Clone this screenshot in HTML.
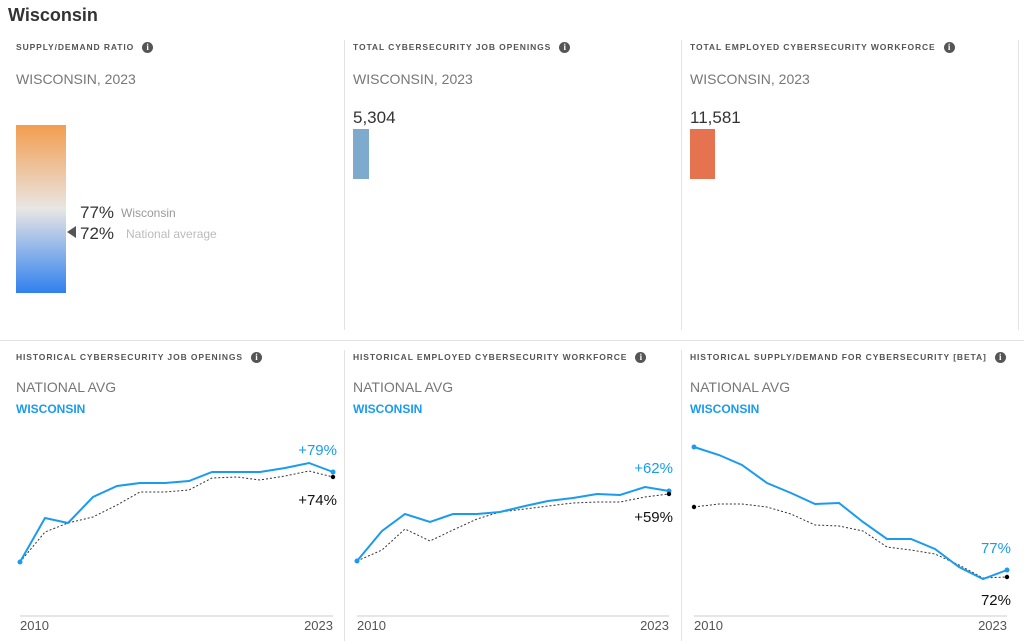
<!DOCTYPE html>
<html><head><meta charset="utf-8"><style>
body{margin:0;width:1024px;height:641px;background:#fff;font-family:"Liberation Sans",sans-serif;position:relative;overflow:hidden}
.a{position:absolute;white-space:nowrap}
.h{font-size:8.5px;font-weight:bold;letter-spacing:0.9px;color:#555}
.i{display:inline-block;width:11px;height:11px;border-radius:50%;background:#555;color:#fff;font-size:9px;text-align:center;line-height:11px;margin-left:8px;vertical-align:middle;font-family:"Liberation Serif",serif;font-weight:bold;letter-spacing:0}
.s{font-size:14px;color:#777}
.w{font-size:12px;font-weight:bold;color:#1a9bf0}
.v{position:absolute;width:1px;background:#e3e3e3}
</style></head><body>
<div class="a" style="left:8px;top:5px;font-size:18px;font-weight:bold;color:#333">Wisconsin</div>
<div class="v" style="left:344px;top:40px;height:290px"></div>
<div class="v" style="left:681px;top:40px;height:290px"></div>
<div class="v" style="left:1018px;top:40px;height:290px"></div>
<div class="a" style="left:0;top:340px;width:1024px;height:1px;background:#e3e3e3"></div>
<div class="v" style="left:344px;top:350px;height:291px"></div>
<div class="v" style="left:681px;top:350px;height:291px"></div>

<div class="a h" style="left:16px;top:42px">SUPPLY/DEMAND RATIO<span class="i">i</span></div>
<div class="a h" style="left:353px;top:42px">TOTAL CYBERSECURITY JOB OPENINGS<span class="i">i</span></div>
<div class="a h" style="left:690px;top:42px">TOTAL EMPLOYED CYBERSECURITY WORKFORCE<span class="i">i</span></div>
<div class="a s" style="left:16px;top:71px">WISCONSIN, 2023</div>
<div class="a s" style="left:353px;top:71px">WISCONSIN, 2023</div>
<div class="a s" style="left:690px;top:71px">WISCONSIN, 2023</div>

<div class="a" style="left:16px;top:125px;width:50px;height:168px;background:linear-gradient(#f39d4f,#e8e6e4 50%,#2f80ee)"></div>
<div class="a" style="left:80px;top:203px;font-size:17px;color:#333">77%</div>
<div class="a" style="left:121px;top:206px;font-size:12px;color:#999">Wisconsin</div>
<div class="a" style="left:80px;top:224px;font-size:17px;color:#333">72%</div>
<div class="a" style="left:126px;top:227px;font-size:12px;color:#bbb">National average</div>
<div class="a" style="left:67px;top:226px;width:0;height:0;border-top:6px solid transparent;border-bottom:6px solid transparent;border-right:9px solid #555"></div>

<div class="a" style="left:353px;top:108px;font-size:17px;color:#333">5,304</div>
<div class="a" style="left:353px;top:129px;width:16px;height:50px;background:#7eaacd"></div>
<div class="a" style="left:690px;top:108px;font-size:17px;color:#333">11,581</div>
<div class="a" style="left:690px;top:129px;width:25px;height:50px;background:#e5734f"></div>

<div class="a h" style="left:16px;top:352px">HISTORICAL CYBERSECURITY JOB OPENINGS<span class="i">i</span></div>
<div class="a h" style="left:353px;top:352px">HISTORICAL EMPLOYED CYBERSECURITY WORKFORCE<span class="i">i</span></div>
<div class="a h" style="left:690px;top:352px">HISTORICAL SUPPLY/DEMAND FOR CYBERSECURITY [BETA]<span class="i">i</span></div>
<div class="a s" style="left:16px;top:379px">NATIONAL AVG</div>
<div class="a s" style="left:353px;top:379px">NATIONAL AVG</div>
<div class="a s" style="left:690px;top:379px">NATIONAL AVG</div>
<div class="a w" style="left:16px;top:402px">WISCONSIN</div>
<div class="a w" style="left:353px;top:402px">WISCONSIN</div>
<div class="a w" style="left:690px;top:402px">WISCONSIN</div>

<svg class="a" style="left:0;top:0" width="1024" height="641" font-family="Liberation Sans, sans-serif">
<g stroke="#ccc" stroke-width="1"><line x1="20" y1="616" x2="333" y2="616"/><line x1="357" y1="616" x2="669" y2="616"/><line x1="694" y1="616" x2="1007" y2="616"/></g>
<g font-size="13" fill="#555">
<text x="20" y="630">2010</text><text x="333" y="630" text-anchor="end">2023</text>
<text x="357" y="630">2010</text><text x="669" y="630" text-anchor="end">2023</text>
<text x="694" y="630">2010</text><text x="1007" y="630" text-anchor="end">2023</text></g>
<g fill="none" stroke="#333" stroke-width="1" stroke-dasharray="2,2">
<polyline points="20,562 45,532 68,523 93,517 117,505 140,492 165,492 189,490 212,478 237,477 260,480 285,476 309,471 333,477"/>
<polyline points="357,561 382,550 405,529 430,541 453,530 477,519 500,512 525,509 548,506 573,503 597,502 620,502 645,497 669,494"/>
<polyline points="694,507 719,504 742,504 767,507 791,514 815,525 839,526 863,531 887,547 911,550 935,554 959,565 983,578 1007,577"/>
</g>
<g fill="none" stroke="#1a9bf0" stroke-width="2">
<polyline points="20,562 45,518 68,523 93,497 117,486 140,483 165,483 189,481 212,472 237,472 260,472 285,468 309,463 333,472"/>
<polyline points="357,561 382,531 405,514 430,522 453,514 477,514 500,512 525,506 548,501 573,498 597,494 620,495 645,487 669,491"/>
<polyline points="694,447 719,455 742,465 767,483 791,493 815,504 839,503 863,522 887,539 911,539 935,549 959,567 983,579 1007,570"/>
</g>
<g fill="#1a9bf0"><circle cx="20" cy="562" r="2.5"/><circle cx="333" cy="472" r="2.5"/><circle cx="357" cy="561" r="2.5"/><circle cx="669" cy="491" r="2.5"/><circle cx="694" cy="447" r="2.5"/><circle cx="1007" cy="570" r="2.5"/></g>
<g fill="#000"><circle cx="333" cy="477" r="2.2"/><circle cx="669" cy="494" r="2.2"/><circle cx="694" cy="507" r="2.2"/><circle cx="1007" cy="577" r="2.2"/></g>
<g font-size="15" text-anchor="end">
<text x="337" y="455" fill="#1a9bf0">+79%</text><text x="337" y="505" fill="#111">+74%</text>
<text x="673" y="473" fill="#1a9bf0">+62%</text><text x="673" y="522" fill="#111">+59%</text>
<text x="1011" y="553" fill="#1a9bf0">77%</text><text x="1011" y="605" fill="#111">72%</text>
</g>
</svg>
</body></html>
